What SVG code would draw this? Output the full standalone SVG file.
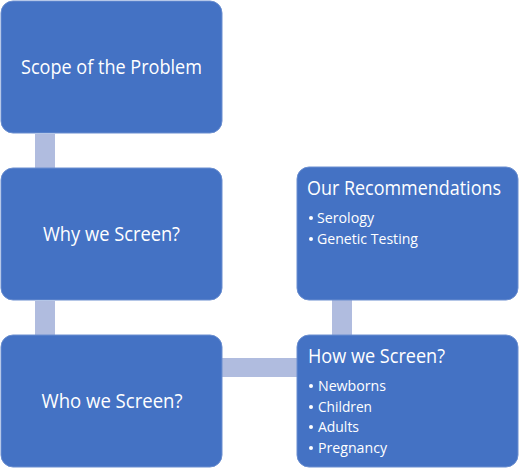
<svg xmlns="http://www.w3.org/2000/svg" width="520" height="469" viewBox="0 0 520 469">
<style>
.box{fill:#4472C4;stroke:#6A8ED0;stroke-width:1}
.con{fill:#B0BCDF}
.t{font-family:"Open Sans","Liberation Sans",sans-serif;fill:#FFFFFF;font-size:19.5px}
.b{font-family:"Open Sans","Liberation Sans",sans-serif;fill:#FFFFFF;font-size:15px}
.dot{fill:#FFFFFF}
</style>
<rect width="520" height="469" fill="#FFFFFF"/>
<g id="connectors">
<rect class="con" x="35" y="134" width="20" height="34"/>
<rect class="con" x="35" y="301" width="20" height="34"/>
<rect class="con" x="222" y="358" width="76" height="19"/>
<rect class="con" x="332" y="300" width="20" height="35"/>
</g>
<g id="scope">
<rect class="box" x="1" y="1" width="221" height="132" rx="12"/>
<text class="t" x="111.5" y="74" text-anchor="middle" textLength="181" lengthAdjust="spacingAndGlyphs">Scope of the Problem</text>
</g>
<g id="why">
<rect class="box" x="1" y="168" width="221" height="132" rx="12"/>
<text class="t" x="111.5" y="241" text-anchor="middle" textLength="137" lengthAdjust="spacingAndGlyphs">Why we Screen?</text>
</g>
<g id="who">
<rect class="box" x="1" y="335" width="221" height="132" rx="12"/>
<text class="t" x="112" y="408" text-anchor="middle" textLength="141" lengthAdjust="spacingAndGlyphs">Who we Screen?</text>
</g>
<g id="recommendations">
<rect class="box" x="297" y="167" width="221" height="133" rx="12"/>
<text class="t" x="307" y="195" textLength="194" lengthAdjust="spacingAndGlyphs">Our Recommendations</text>
<circle class="dot" cx="311" cy="218" r="2"/>
<text class="b" x="317" y="223" textLength="57" lengthAdjust="spacingAndGlyphs">Serology</text>
<circle class="dot" cx="311" cy="239" r="2"/>
<text class="b" x="317" y="244" textLength="101" lengthAdjust="spacingAndGlyphs">Genetic Testing</text>
</g>
<g id="how">
<rect class="box" x="297" y="335" width="221" height="132" rx="12"/>
<text class="t" x="308" y="363" textLength="137" lengthAdjust="spacingAndGlyphs">How we Screen?</text>
<circle class="dot" cx="311" cy="386" r="2"/>
<text class="b" x="318" y="391" textLength="68" lengthAdjust="spacingAndGlyphs">Newborns</text>
<circle class="dot" cx="311" cy="407" r="2"/>
<text class="b" x="318" y="412" textLength="54" lengthAdjust="spacingAndGlyphs">Children</text>
<circle class="dot" cx="311" cy="427" r="2"/>
<text class="b" x="318" y="432" textLength="41" lengthAdjust="spacingAndGlyphs">Adults</text>
<circle class="dot" cx="311" cy="448" r="2"/>
<text class="b" x="318" y="453" textLength="69" lengthAdjust="spacingAndGlyphs">Pregnancy</text>
</g>
</svg>
